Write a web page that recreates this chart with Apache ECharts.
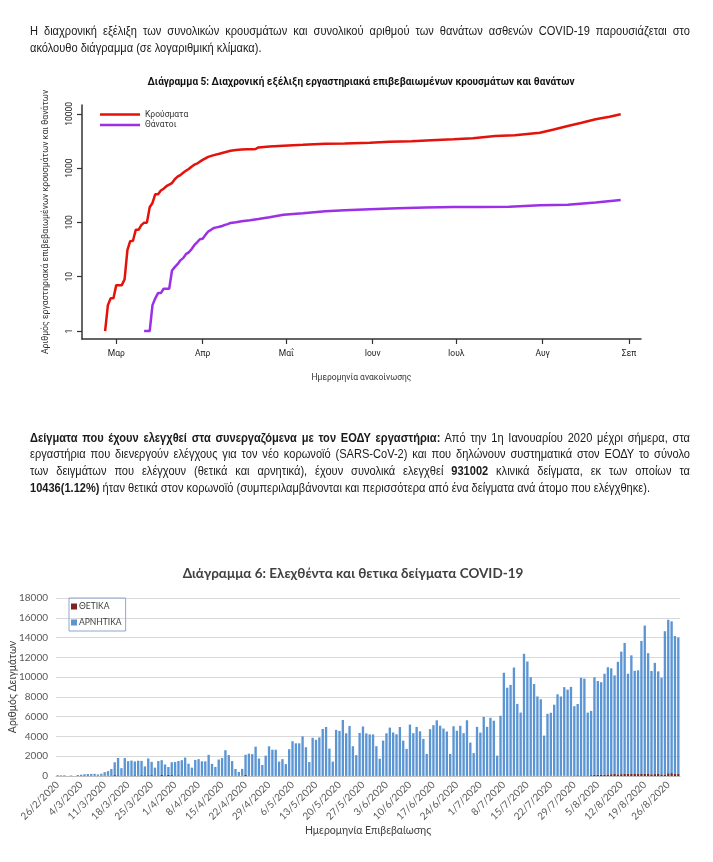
<!DOCTYPE html>
<html><head><meta charset="utf-8">
<script src="https://cdn.jsdelivr.net/npm/echarts@6/dist/echarts.min.js"></script>
<style>
html,body{margin:0;padding:0;background:#fff;}
#wrap{position:relative;width:713px;height:862px;overflow:hidden;background:#fff;}
#chart{position:absolute;left:0;top:0;width:713px;height:862px;}
.p{position:absolute;left:30px;width:680px;font-family:"Liberation Sans",Arimo,sans-serif;font-size:13px;color:#1a1a1a;}
.ln{white-space:nowrap;height:16.7px;line-height:16.7px;}
.ln span{display:inline-block;transform-origin:0 50%;}
</style></head>
<body><div id="wrap">
<div id="chart"></div>
<div class="p" style="top:21.5px;">
<div class="ln j" style="height:17px;line-height:17px;"><span>Η διαχρονική εξέλιξη των συνολικών κρουσμάτων και συνολικού αριθμού των θανάτων ασθενών COVID-19 παρουσιάζεται στο</span></div>
<div class="ln" style="height:17px;line-height:17px;"><span>ακόλουθο διάγραμμα (σε λογαριθμική κλίμακα).</span></div>
</div>
<div class="p" style="top:429.6px;">
<div class="ln j"><span><b>Δείγματα που έχουν ελεγχθεί στα συνεργαζόμενα με τον ΕΟΔΥ εργαστήρια:</b> Από την 1η Ιανουαρίου 2020 μέχρι σήμερα, στα</span></div>
<div class="ln j"><span>εργαστήρια που διενεργούν ελέγχους για τον νέο κορωνοϊό (SARS-CoV-2) και που δηλώνουν συστηματικά στον ΕΟΔΥ το σύνολο</span></div>
<div class="ln j"><span>των δειγμάτων που ελέγχουν (θετικά και αρνητικά), έχουν συνολικά ελεγχθεί <b>931002</b> κλινικά δείγματα, εκ των οποίων τα</span></div>
<div class="ln" id="refline"><span><b>10436(1.12%)</b> ήταν θετικά στον κορωνοϊό (συμπεριλαμβάνονται και περισσότερα από ένα δείγματα ανά άτομο που ελέγχθηκε).</span></div>
</div>
</div>
<script>
// ---- Chart 5: cumulative cases and deaths (log scale) ----
const caseDates = ['2020-02-26','2020-02-27','2020-02-28','2020-02-29','2020-03-01','2020-03-02','2020-03-03','2020-03-04','2020-03-05','2020-03-06','2020-03-07','2020-03-08','2020-03-09','2020-03-10','2020-03-11','2020-03-12','2020-03-13','2020-03-14','2020-03-15','2020-03-16','2020-03-17','2020-03-18','2020-03-19','2020-03-20','2020-03-21','2020-03-22','2020-03-23','2020-03-24','2020-03-25','2020-03-26','2020-03-27','2020-03-28','2020-03-29','2020-03-30','2020-03-31','2020-04-01','2020-04-03','2020-04-05','2020-04-07','2020-04-09','2020-04-11','2020-04-13','2020-04-15','2020-04-17','2020-04-19','2020-04-20','2020-04-21','2020-04-25','2020-04-30','2020-05-07','2020-05-15','2020-05-22','2020-05-31','2020-06-07','2020-06-15','2020-06-22','2020-06-30','2020-07-07','2020-07-15','2020-07-22','2020-07-31','2020-08-05','2020-08-10','2020-08-15','2020-08-20','2020-08-25','2020-08-29'];
const caseValues = [1,3,4,4,7,7,7,9,31,45,46,73,73,89,99,99,190,228,331,331,387,418,464,495,530,624,695,743,821,892,966,1061,1156,1212,1314,1415,1613,1735,1832,1955,2081,2145,2192,2224,2235,2245,2401,2506,2591,2678,2810,2853,2917,3049,3121,3256,3409,3562,3910,4012,4477,5123,5942,6858,7938,8819,9800];
const deathDates = ['2020-03-11','2020-03-12','2020-03-13','2020-03-14','2020-03-15','2020-03-16','2020-03-17','2020-03-18','2020-03-19','2020-03-20','2020-03-21','2020-03-22','2020-03-23','2020-03-24','2020-03-25','2020-03-26','2020-03-27','2020-03-28','2020-03-29','2020-03-30','2020-03-31','2020-04-01','2020-04-02','2020-04-03','2020-04-04','2020-04-05','2020-04-06','2020-04-07','2020-04-08','2020-04-09','2020-04-10','2020-04-11','2020-04-13','2020-04-15','2020-04-18','2020-04-21','2020-04-25','2020-04-30','2020-05-07','2020-05-15','2020-05-22','2020-05-31','2020-06-10','2020-06-20','2020-06-30','2020-07-10','2020-07-20','2020-07-31','2020-08-10','2020-08-20','2020-08-29'];
const deathValues = [1,1,1,3,4,5,5,6,6,6,13,15,17,20,22,26,28,32,38,43,49,50,59,68,73,79,81,83,86,90,93,98,101,105,110,116,125,138,147,160,168,175,183,189,192,193,195,206,212,232,258];
const monthTicks = ['2020-03-01','2020-04-01','2020-05-01','2020-06-01','2020-07-01','2020-08-01','2020-09-01'];
const monthLabels = ['Μαρ','Απρ','Μαΐ','Ιουν','Ιουλ','Αυγ','Σεπ'];
const dateMin = '2020-02-17T17:00';
const dateMax = '2020-09-05T07:00';

// ---- Chart 6: daily samples, positive / negative ----
const positives = [1,2,1,0,3,0,2,2,2,0,15,20,10,30,40,45,55,
90,70,40,60,50,55,70,45,80,70,75,85,50,60,100,65,110,90,60,
70,50,60,40,45,25,55,35,30,40,25,20,15,12,10,15,10,12,10,20,150,8,10,15,20,12,10,5,8,10,
6,5,4,10,12,8,6,8,10,12,15,10,5,8,12,20,8,15,10,12,20,15,10,8,5,10,6,7,5,10,5,
12,10,15,20,10,8,6,10,12,20,15,10,8,15,25,20,12,10,18,20,15,10,30,25,20,15,12,20,18,10,
15,20,25,30,10,30,40,35,25,30,20,15,35,30,25,40,35,20,15,30,35,40,45,30,25,40,50,60,70,60,50,
50,80,110,120,150,140,160,180,200,170,190,230,240,210,200,250,260,230,200,180,190,210,170,160,280,290,250,200];
const negatives = [80,60,70,0,50,0,100,130,180,200,200,200,150,200,350,450,650,
1300,1750,750,1750,1450,1500,1400,1500,1450,900,1700,1350,800,1450,1500,1100,800,1300,1350,1450,1550,1800,1200,800,1600,1650,1450,1450,2100,1200,900,1650,1800,2600,2100,1500,700,400,700,2000,2250,2200,2950,1750,1100,2050,3000,2650,2650,1450,1700,1200,2700,3500,3300,3300,4000,2900,1400,3850,3650,3900,4750,4950,2750,1450,4650,4550,5650,4300,5050,3000,2100,4350,
5000,4300,4200,4200,3000,1750,3570,4310,4880,4380,4210,4950,3570,2730,5190,4310,4950,4510,3740,2220,4710,5120,5620,5080,4780,4480,2220,5020,4550,5050,4310,5620,3370,2290,4950,4380,5960,4950,5860,5560,2050,6060,10400,8890,9190,10940,7270,6400,
12320,11550,9970,9260,8010,7740,4070,6260,6360,7170,8220,8010,8960,8690,8960,7000,7210,9870,9800,6360,6500,9870,9490,9330,10200,10840,10710,9970,11380,12390,13230,10100,11990,10440,10440,13400,14980,12220,10440,11250,10370,9760,14480,15520,15350,13900,13800];
const sampleDates = [];
for (let i = 0; i < negatives.length; i++) {
  const d = new Date(Date.UTC(2020, 1, 26 + i));
  sampleDates.push(d.getUTCDate() + '/' + (d.getUTCMonth() + 1) + '/' + d.getUTCFullYear());
}

// ---- paragraph layout: condensed look + justified lines ----
(function layoutText() {
  const ref = document.querySelector('#refline span');
  const s = 620 / ref.getBoundingClientRect().width;
  document.querySelectorAll('.ln span').forEach(sp => {
    const line = sp.parentNode;
    const w = sp.getBoundingClientRect().width;
    let sc = s;
    if (line.classList.contains('j')) {
      const spaces = (sp.textContent.match(/ /g) || []).length;
      let extra = 660 / s - w;
      if (extra < 0) { sc = 660 / w; extra = 0; }
      sp.style.wordSpacing = (extra / spaces) + 'px';
    }
    sp.style.transform = 'scaleX(' + sc + ')';
  });
})();

const ts = s => Date.parse(s + (s.length === 10 ? 'T00:00:00Z' : ':00Z'));
const chart = echarts.init(document.getElementById('chart'), null, {renderer: 'canvas'});
const F1 = 'Roboto, sans-serif';
const F2 = 'Lato, sans-serif';
chart.setOption({
  animation: false,
  backgroundColor: 'transparent',
  title: [
    {text: 'Διάγραμμα 5: Διαχρονική εξέλιξη εργαστηριακά επιβεβαιωμένων κρουσμάτων και θανάτων', left: 361, top: 77.5, padding: 0, textAlign: 'center',
     textStyle: {fontFamily: F1, fontSize: 10, fontWeight: 'bold', color: '#111'}},
    {text: 'Διάγραμμα 6: Ελεχθέντα και θετικα δείγματα COVID-19', left: 353, top: 567, padding: 0, textAlign: 'center',
     textStyle: {fontFamily: F2, fontSize: 13.5, fontWeight: 'bold', color: '#404040'}}
  ],
  legend: [
    {data: ['Κρούσματα', 'Θάνατοι'], left: 100, top: 110, orient: 'vertical', icon: 'rect', itemWidth: 40, itemHeight: 2.5, itemGap: 1.5, padding: 0,
     textStyle: {fontFamily: F1, fontSize: 8.5, color: '#333'}},
    {data: ['ΘΕΤΙΚΑ', 'ΑΡΝΗΤΙΚΑ'], left: 69, top: 598, orient: 'vertical', icon: 'rect', itemWidth: 6, itemHeight: 6, itemGap: 7,
     padding: [4, 4, 4, 2], borderColor: '#8aa8cf', borderWidth: 1,
     textStyle: {fontFamily: F2, fontSize: 8.5, color: '#404040', padding: [0, 0, 0, -3]}}
  ],
  grid: [
    {left: 82, right: 72, top: 105, height: 234, containLabel: false, outerBoundsMode: 'none'},
    {left: 56, width: 624, top: 598, height: 178, containLabel: false, outerBoundsMode: 'none'}
  ],
  xAxis: [
    {type: 'value', gridIndex: 0, min: ts(dateMin), max: ts(dateMax),
     name: 'Ημερομηνία ανακοίνωσης', nameLocation: 'middle', nameGap: 34,
     nameTextStyle: {fontFamily: F1, fontSize: 8.5, color: '#333'},
     axisLine: {lineStyle: {color: '#333', width: 1.5}},
     axisTick: {show: true, length: 5, customValues: monthTicks.map(ts), lineStyle: {color: '#333', width: 1.2}},
     axisLabel: {customValues: monthTicks.map(ts), fontFamily: F1, fontSize: 8.5, color: '#222', margin: 10,
       formatter: v => monthLabels[new Date(v).getUTCMonth() - 2] || ''},
     splitLine: {show: false}},
    {type: 'category', gridIndex: 1, data: sampleDates,
     name: 'Ημερομηνία Επιβεβαίωσης', nameLocation: 'middle', nameGap: 43,
     nameTextStyle: {fontFamily: F2, fontSize: 10.5, color: '#404040'},
     axisLine: {lineStyle: {color: '#bfbfbf'}}, axisTick: {show: false},
     axisLabel: {interval: 6, rotate: 45, fontFamily: F2, fontSize: 10, color: '#595959', margin: 7}}
  ],
  yAxis: [
    {type: 'log', gridIndex: 0, min: 0.713, max: 14520, logBase: 10,
     name: 'Αριθμός εργαστηριακά επιβεβαιωμένων κρουσμάτων και θανάτων', nameLocation: 'middle', nameGap: 32, nameMoveOverlap: false,
     nameTextStyle: {fontFamily: F1, fontSize: 8.7, color: '#333'},
     axisLine: {show: true, lineStyle: {color: '#333', width: 1.5}},
     axisTick: {show: true, length: 5, lineStyle: {color: '#333', width: 1.2}},
     axisLabel: {rotate: 90, fontFamily: F1, fontSize: 8.5, color: '#222', margin: 8, showMinLabel: false, showMaxLabel: false,
       formatter: v => String(Math.round(v))},
     splitLine: {show: false}},
    {type: 'value', gridIndex: 1, min: 0, max: 18000, interval: 2000,
     name: 'Αριθμός Δειγμάτων', nameLocation: 'middle', nameGap: 38, nameMoveOverlap: false,
     nameTextStyle: {fontFamily: F2, fontSize: 10.5, color: '#404040'},
     axisLine: {show: false}, axisTick: {show: false},
     axisLabel: {fontFamily: F2, fontSize: 10, color: '#595959', margin: 8, formatter: v => String(v)},
     splitLine: {lineStyle: {color: '#d9d9d9'}}}
  ],
  series: [
    {name: 'Κρούσματα', type: 'line', xAxisIndex: 0, yAxisIndex: 0, showSymbol: false, symbol: 'none',
     color: '#e3120b', lineStyle: {width: 2.5, color: '#e3120b'},
     data: caseDates.map((d, i) => [ts(d), caseValues[i]])},
    {name: 'Θάνατοι', type: 'line', xAxisIndex: 0, yAxisIndex: 0, showSymbol: false, symbol: 'none',
     color: '#9b30e6', lineStyle: {width: 2.5, color: '#9b30e6'},
     data: deathDates.map((d, i) => [ts(d), deathValues[i]])},
    {name: 'ΘΕΤΙΚΑ', type: 'bar', xAxisIndex: 1, yAxisIndex: 1, stack: 'samples', barCategoryGap: '30%',
     color: '#7b2424', data: positives},
    {name: 'ΑΡΝΗΤΙΚΑ', type: 'bar', xAxisIndex: 1, yAxisIndex: 1, stack: 'samples', barCategoryGap: '30%',
     color: '#5b95d3', data: negatives}
  ]
});
</script>
</body></html>
